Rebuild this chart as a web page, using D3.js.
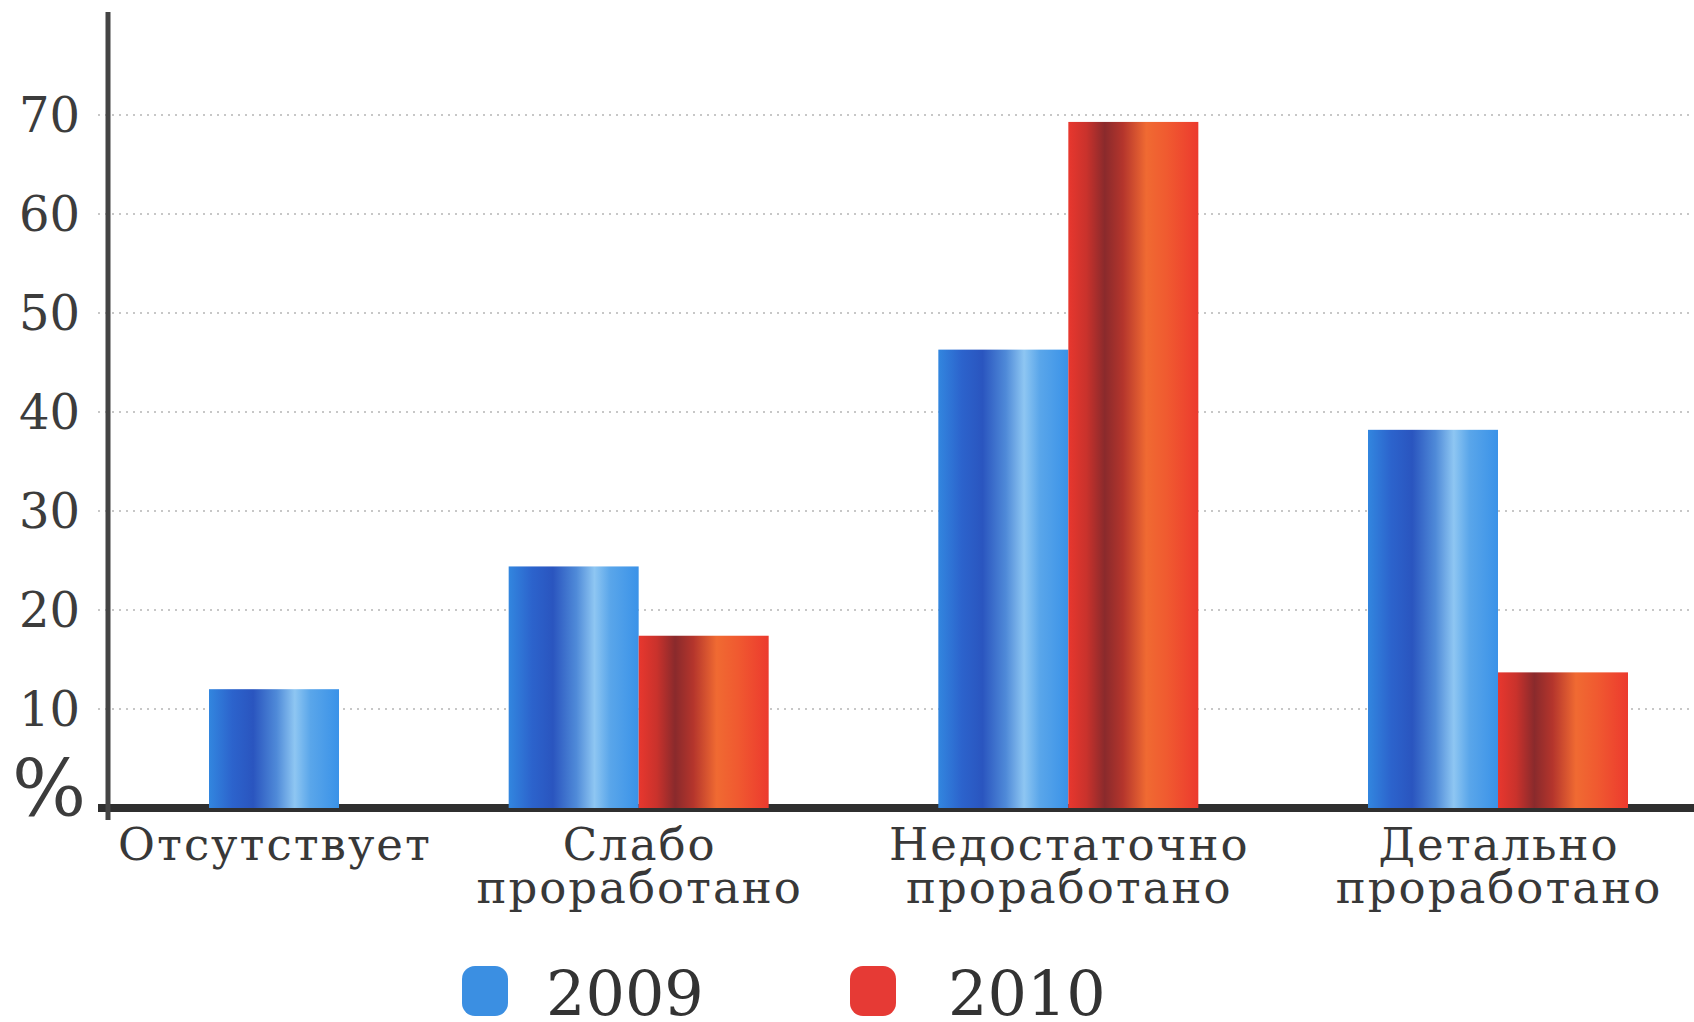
<!DOCTYPE html>
<html>
<head>
<meta charset="utf-8">
<script src="https://cdn.jsdelivr.net/npm/d3@7"></script>
<style>
  body { margin: 0; background: #fff; }
</style>
</head>
<body>
<div id="chart"></div>
<script>
// data
let categories = ["Отсутствует", "Слабо проработано", "Недостаточно проработано", "Детально проработано"]
let years = ["2009", "2010"]
let values2009 = [12, 24.4, 46.3, 38.2]
let values2010 = [null, 17.4, 69.3, 13.7]
let yTicks = [10, 20, 30, 40, 50, 60, 70]

let width = 1694, height = 1022

let svg = d3.select("#chart").append("svg")
  .attr("width", width)
  .attr("height", height)

// gradients for the shiny bars
let defs = svg.append("defs")
let gBlue = defs.append("linearGradient").attr("id", "gBlue")
  .attr("x1", "0%").attr("x2", "100%").attr("y1", "0%").attr("y2", "0%")
;[["0%", "#3286df"], ["18%", "#2c63cc"], ["34%", "#2a55bf"], ["52%", "#4f8ad8"],
  ["66%", "#8ec6f2"], ["78%", "#5aa6ea"], ["100%", "#3a92e8"]].forEach(s =>
  gBlue.append("stop").attr("offset", s[0]).attr("stop-color", s[1]))

let gRed = defs.append("linearGradient").attr("id", "gRed")
  .attr("x1", "0%").attr("x2", "100%").attr("y1", "0%").attr("y2", "0%")
;[["0%", "#e8372e"], ["14%", "#c9322c"], ["28%", "#8a2a2c"], ["42%", "#b4352c"],
  ["60%", "#f06a32"], ["76%", "#f05a30"], ["100%", "#ec3a2e"]].forEach(s =>
  gRed.append("stop").attr("offset", s[0]).attr("stop-color", s[1]))

let fills = {"2009": "url(#gBlue)", "2010": "url(#gRed)"}

// scales
let y = d3.scaleLinear().domain([0, 70]).range([808, 115])
let x = d3.scalePoint().domain(categories).range([209, 1498])
let xs = d3.scaleBand().domain(years).range([-130, 130])

let axisX = 108

// dotted grid lines
svg.selectAll(".grid")
  .data(yTicks)
  .enter().append("line")
  .attr("x1", 98)
  .attr("x2", width)
  .attr("y1", d => y(d))
  .attr("y2", d => y(d))
  .style("stroke", "#b5b5b5")
  .style("stroke-width", 1.6)
  .style("stroke-dasharray", "2,5")

// y tick labels
svg.selectAll(".ytick")
  .data(yTicks)
  .enter().append("text")
  .attr("x", 80)
  .attr("y", d => y(d))
  .attr("dy", "0.36em")
  .attr("text-anchor", "end")
  .style("font-family", "DejaVu Serif")
  .style("font-size", "48px")
  .style("fill", "#3c3c3c")
  .text(d => d)

svg.append("text")
  .attr("x", 12)
  .attr("y", 816)
  .style("font-family", "DejaVu Serif")
  .style("font-size", "78px")
  .style("fill", "#3c3c3c")
  .text("%")

// base line
svg.append("rect")
  .attr("x", 98)
  .attr("y", y(0) - 4)
  .attr("width", width - 98)
  .attr("height", 8)
  .style("fill", "#2f2f2f")

// vertical axis
svg.append("rect")
  .attr("x", axisX - 2.5)
  .attr("y", 12)
  .attr("width", 5)
  .attr("height", 820 - 12)
  .style("fill", "#444")

// bars
categories.forEach(function (c, i) {
  let rows = [{year: "2009", v: values2009[i]}, {year: "2010", v: values2010[i]}]
    .filter(r => r.v != null)
  let g = svg.append("g")
  let centers = []
  rows.forEach(function (r) {
    // a lone bar sits to the right of the group centre, as in the source
    let left = rows.length == 1 ? x(c) : x(c) + xs(r.year)
    centers.push(left + xs.bandwidth() / 2)
    g.append("rect")
      .attr("x", left)
      .attr("y", y(r.v))
      .attr("width", xs.bandwidth())
      .attr("height", y(0) - y(r.v))
      .style("fill", fills[r.year])
  })

  // category label, wrapped onto two lines
  let cx = d3.mean(centers) + 1
  let words = c.split(" ")
  let label = svg.append("text")
    .attr("text-anchor", "middle")
    .style("font-family", "DejaVu Serif")
    .style("font-size", "45px")
    .style("letter-spacing", "2px")
    .style("fill", "#383838")
  words.forEach(function (w, k) {
    label.append("tspan")
      .attr("x", cx)
      .attr("y", 860 + k * 43)
      .text(w)
  })
})

// legend
let legendX = [462, 850]
let legendColors = ["#3b8fe2", "#e63a35"]
years.forEach(function (yr, k) {
  svg.append("rect")
    .attr("x", legendX[k])
    .attr("y", 966)
    .attr("width", 46)
    .attr("height", 50)
    .attr("rx", 13)
    .style("fill", legendColors[k])
  svg.append("text")
    .attr("x", legendX[k] + 84 + k * 14)
    .attr("y", 1015)
    .style("font-family", "DejaVu Serif")
    .style("font-size", "62px")
    .style("fill", "#333")
    .text(yr)
})
</script>
</body>
</html>
